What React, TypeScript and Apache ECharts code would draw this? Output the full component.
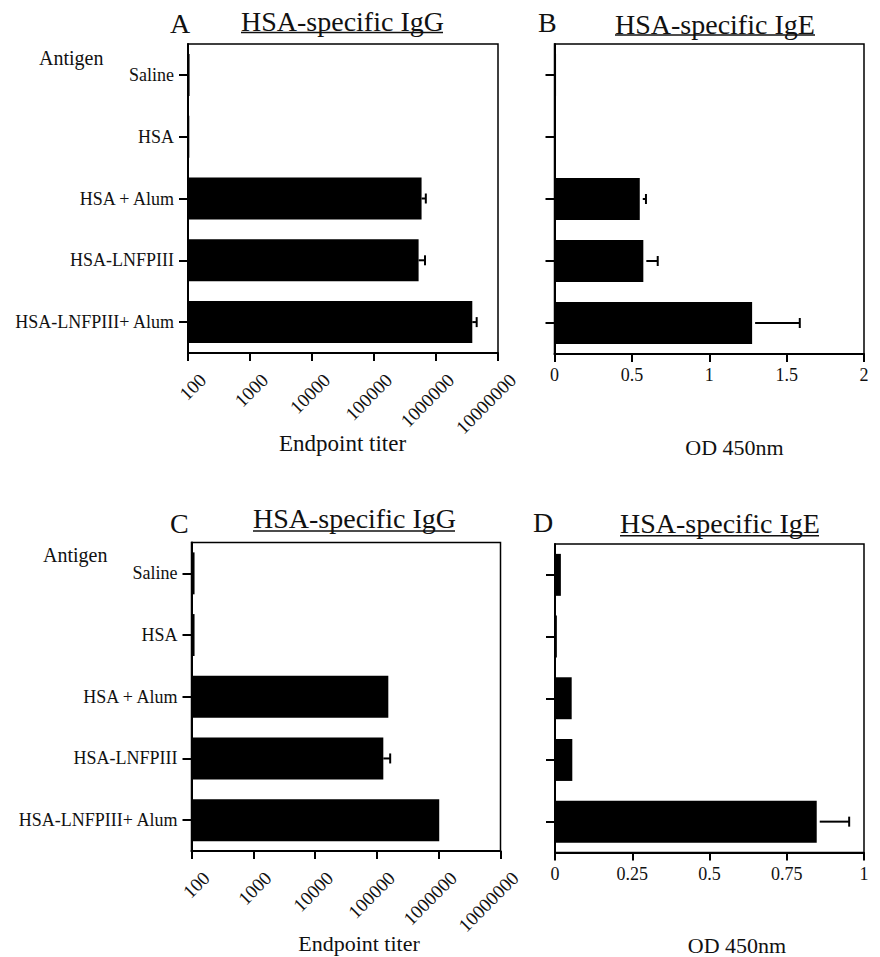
import React, { useEffect, useRef } from "react";
import * as echarts from "echarts";

// ---------- data ----------
const categories = ["Saline", "HSA", "HSA + Alum", "HSA-LNFPIII", "HSA-LNFPIII+ Alum"];

// Panel A: HSA-specific IgG, endpoint titer (log)
const titerA = [106, 105, 585000, 524000, 3850000];
const titerErrA = [0, 0, 100000, 140000, 680000];

// Panel B: HSA-specific IgE, OD 450nm
const odB = [0.01, 0.005, 0.551, 0.574, 1.277];
const odErrB = [0, 0, 0.04, 0.093, 0.308];

// Panel C: HSA-specific IgG, endpoint titer (log)
const titerC = [112, 112, 153000, 127000, 1020000];
const titerErrC = [0, 0, 0, 37000, 0];

// Panel D: HSA-specific IgE, OD 450nm
const odD = [0.019, 0.006, 0.054, 0.056, 0.847];
const odErrD = [0, 0, 0, 0, 0.105];

const titerMin = 100;
const titerMax = 10000000;
const odMaxB = 2;
const odIntervalB = 0.5;
const odMaxD = 1;
const odIntervalD = 0.25;

const FONT = "'Liberation Serif', 'Times New Roman', serif";
const INK = "#111";

function errorSeries(xIdx: number, vals: number[], errs: number[], gap: number) {
  const data = vals
    .map((v, i) => [v, v + errs[i], i, errs[i]])
    .filter((d) => d[3] > 0);
  return {
    type: "custom",
    xAxisIndex: xIdx,
    yAxisIndex: xIdx,
    encode: { x: [0, 1], y: 2 },
    data,
    z: 5,
    silent: true,
    renderItem: (params: any, api: any) => {
      const cat = api.value(2);
      const lo = api.coord([api.value(0), cat]);
      const hi = api.coord([api.value(1), cat]);
      const cap = 5;
      return {
        type: "group",
        children: [
          {
            type: "line",
            shape: { x1: lo[0] + gap, y1: lo[1], x2: hi[0], y2: hi[1] },
            style: { stroke: "#000", lineWidth: 2 },
          },
          {
            type: "line",
            shape: { x1: hi[0], y1: hi[1] - cap, x2: hi[0], y2: hi[1] + cap },
            style: { stroke: "#000", lineWidth: 2 },
          },
        ],
      };
    },
  };
}

function barSeries(idx: number, vals: number[]) {
  return {
    type: "bar",
    xAxisIndex: idx,
    yAxisIndex: idx,
    data: vals,
    barCategoryGap: "32%",
    clip: true,
    itemStyle: { color: "#000" },
    silent: true,
    z: 3,
  };
}

function logXAxis(grid: number) {
  return {
    type: "log",
    gridIndex: grid,
    logBase: 10,
    min: titerMin,
    max: titerMax,
    startValue: titerMin,
    axisLine: { show: true, lineStyle: { color: "#000", width: 2 } },
    axisTick: { show: true, inside: false, length: 8, lineStyle: { color: "#000", width: 2 } },
    splitLine: { show: false },
    minorTick: { show: false },
    axisLabel: {
      rotate: 45,
      fontSize: 19,
      fontFamily: FONT,
      color: INK,
      margin: 9,
      lineHeight: 42,
      align: "right",
      verticalAlign: "top",
      hideOverlap: false,
      showMinLabel: true,
      showMaxLabel: true,
      formatter: (v: number) => String(Math.round(v)),
    },
  };
}

function odXAxis(grid: number, max: number, interval: number) {
  return {
    type: "value",
    gridIndex: grid,
    min: 0,
    max,
    interval,
    axisLine: { show: true, lineStyle: { color: "#000", width: 2 } },
    axisTick: { show: true, inside: false, length: 8, lineStyle: { color: "#000", width: 2 } },
    splitLine: { show: false },
    axisLabel: { fontSize: 18, fontFamily: FONT, color: INK, margin: 12 },
  };
}

function catYAxis(grid: number, showLabels: boolean) {
  return {
    type: "category",
    gridIndex: grid,
    data: categories,
    inverse: true,
    axisLine: { show: true, lineStyle: { color: "#000", width: 2 } },
    axisTick: { show: true, alignWithLabel: true, inside: false, length: 9, lineStyle: { color: "#000", width: 2 } },
    splitLine: { show: false },
    axisLabel: { show: showLabels, fontSize: 18, fontFamily: FONT, color: INK, margin: 14 },
  };
}

function txt(text: string, x: number, y: number, size: number, align: string = "left") {
  return {
    type: "text",
    x,
    y,
    silent: true,
    style: {
      text,
      fill: INK,
      font: `${size}px ${FONT}`,
      align,
      verticalAlign: "middle",
    },
  };
}

function underline(x1: number, x2: number, y: number) {
  return {
    type: "line",
    silent: true,
    shape: { x1, y1: y, x2, y2: y },
    style: { stroke: INK, lineWidth: 1.5 },
  };
}

export default function App() {
  const ref = useRef<HTMLDivElement>(null);

  useEffect(() => {
    if (!ref.current) return;
    const chart = echarts.init(ref.current, undefined, { renderer: "svg" });

    const gridStyle = { show: true, borderColor: "#000", borderWidth: 1.5, backgroundColor: "transparent" };

    const option: any = {
      animation: false,
      backgroundColor: "#fff",
      grid: [
        { left: 188, top: 44, width: 310, height: 309, ...gridStyle },
        { left: 554.5, top: 44, width: 309.5, height: 310, ...gridStyle },
        { left: 191.5, top: 542.5, width: 309, height: 308.5, ...gridStyle },
        { left: 555, top: 544, width: 309, height: 308.5, ...gridStyle },
      ],
      xAxis: [
        logXAxis(0),
        odXAxis(1, odMaxB, odIntervalB),
        logXAxis(2),
        odXAxis(3, odMaxD, odIntervalD),
      ],
      yAxis: [catYAxis(0, true), catYAxis(1, false), catYAxis(2, true), catYAxis(3, false)],
      series: [
        barSeries(0, titerA),
        barSeries(1, odB),
        barSeries(2, titerC),
        barSeries(3, odD),
        errorSeries(0, titerA, titerErrA, 0),
        errorSeries(1, odB, odErrB, 3),
        errorSeries(2, titerC, titerErrC, 0),
        errorSeries(3, odD, odErrD, 3),
      ],
      graphic: [
        // Panel A
        txt("A", 170, 23, 28),
        txt("HSA-specific IgG", 241, 21, 28),
        underline(241, 443, 32.5),
        txt("Antigen", 39, 57.5, 20),
        txt("Endpoint titer", 342.5, 443, 23, "center"),
        // Panel B
        txt("B", 538, 22, 28),
        txt("HSA-specific IgE", 615, 24, 28),
        underline(615, 815, 35),
        txt("OD 450nm", 734.5, 447.5, 22, "center"),
        // Panel C
        txt("C", 170, 523.5, 28),
        txt("HSA-specific IgG", 253, 518.5, 28),
        underline(253, 455, 531),
        txt("Antigen", 43, 555, 20),
        txt("Endpoint titer", 359, 943.5, 22, "center"),
        // Panel D
        txt("D", 533, 522, 28),
        txt("HSA-specific IgE", 620, 523.5, 28),
        underline(620, 819, 535.7),
        txt("OD 450nm", 737, 945, 22, "center"),
      ],
    };

    chart.setOption(option);
    return () => chart.dispose();
  }, []);

  return (
    <div
      ref={ref}
      style={{ position: "fixed", left: 0, top: 0, width: 880, height: 957, background: "#fff" }}
    />
  );
}
